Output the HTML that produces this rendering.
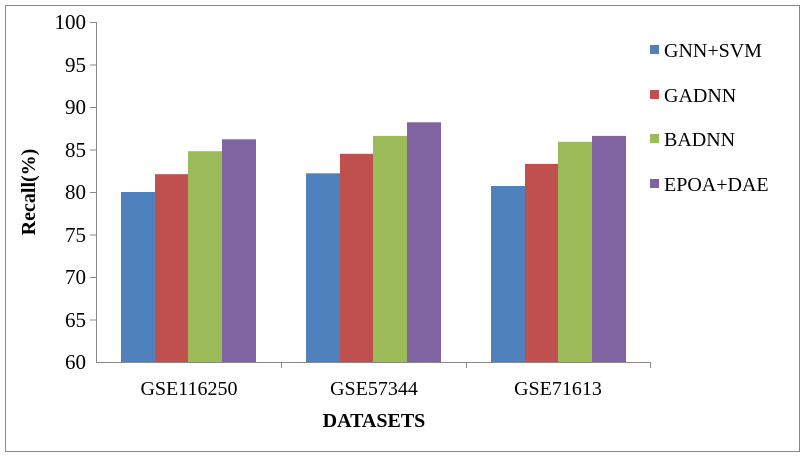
<!DOCTYPE html>
<html><head><style>body{margin:0;background:#fff} svg text{font-family:"Liberation Serif","Times New Roman",serif}</style></head><body>
<svg width="805" height="455" xmlns="http://www.w3.org/2000/svg">
<rect x="5.5" y="5.5" width="794" height="446" fill="#fff" stroke="#888" stroke-width="1"/>
<g stroke="#888" stroke-width="1">
<line x1="96.5" y1="22" x2="96.5" y2="362"/>
<line x1="96" y1="362.5" x2="651" y2="362.5"/>
<line x1="90" y1="22.5" x2="96" y2="22.5"/><line x1="90" y1="65" x2="96" y2="65"/>
<line x1="90" y1="107.5" x2="96" y2="107.5"/><line x1="90" y1="150" x2="96" y2="150"/>
<line x1="90" y1="192.5" x2="96" y2="192.5"/><line x1="90" y1="235" x2="96" y2="235"/>
<line x1="90" y1="277.5" x2="96" y2="277.5"/><line x1="90" y1="320" x2="96" y2="320"/>
<line x1="281.5" y1="362" x2="281.5" y2="368"/><line x1="466.5" y1="362" x2="466.5" y2="368"/><line x1="650.5" y1="362" x2="650.5" y2="368"/>
</g>
<g font-size="21" text-anchor="end" fill="#000">
<text x="86" y="29">100</text><text x="86" y="72">95</text><text x="86" y="114">90</text><text x="86" y="157">85</text>
<text x="86" y="199">80</text><text x="86" y="242">75</text><text x="86" y="284">70</text><text x="86" y="327">65</text><text x="86" y="369">60</text>
</g>
<g>
<rect x="121" y="192" width="34" height="170" fill="#4f81bd"/>
<rect x="155" y="174.2" width="33" height="187.8" fill="#c0504d"/>
<rect x="188" y="151.2" width="34" height="210.8" fill="#9bbb59"/>
<rect x="222" y="139.3" width="34" height="222.7" fill="#8064a2"/>
<rect x="306" y="173.3" width="34" height="188.7" fill="#4f81bd"/>
<rect x="340" y="153.8" width="33" height="208.2" fill="#c0504d"/>
<rect x="373" y="135.9" width="34" height="226.1" fill="#9bbb59"/>
<rect x="407" y="122.3" width="34" height="239.7" fill="#8064a2"/>
<rect x="491" y="186" width="34" height="176" fill="#4f81bd"/>
<rect x="525" y="163.9" width="33" height="198.1" fill="#c0504d"/>
<rect x="558" y="141.8" width="34" height="220.2" fill="#9bbb59"/>
<rect x="592" y="135.9" width="34" height="226.1" fill="#8064a2"/>
</g>
<g font-size="20" text-anchor="middle">
<text x="189" y="395">GSE116250</text><text x="374" y="395">GSE57344</text><text x="558" y="395">GSE71613</text>
<text x="374" y="427" font-weight="bold">DATASETS</text>
</g>
<text transform="translate(35,192) rotate(-90)" font-size="20" font-weight="bold" text-anchor="middle">Recall(%)</text>
<g font-size="20">
<rect x="650" y="45" width="9" height="9" fill="#4f81bd"/><text x="664" y="57">GNN+SVM</text>
<rect x="650" y="90" width="9" height="9" fill="#c0504d"/><text x="664" y="102">GADNN</text>
<rect x="650" y="134" width="9" height="9" fill="#9bbb59"/><text x="664" y="146">BADNN</text>
<rect x="650" y="179" width="9" height="9" fill="#8064a2"/><text x="664" y="191">EPOA+DAE</text>
</g>
</svg>
</body></html>
